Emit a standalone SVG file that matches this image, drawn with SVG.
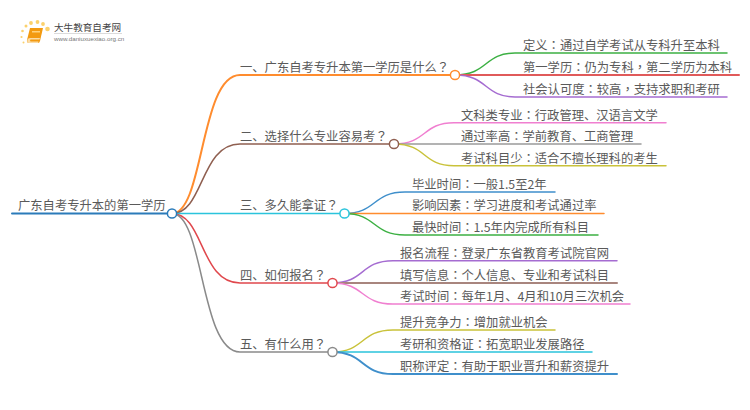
<svg xmlns="http://www.w3.org/2000/svg" width="750" height="410" viewBox="0 0 750 410">
<style>
text{font-family:"Noto Sans CJK SC","Liberation Sans",sans-serif;font-size:12.300px;fill:#5a5a5a}
.p{font-family:"Noto Sans CJK TC","Noto Sans CJK SC",sans-serif}
.c{fill:none;stroke-width:1.500;stroke-linecap:round}
.n{fill:#fff;stroke-width:1.500}
.d{fill:#fbd16c}
</style>
<rect width="750" height="410" fill="#fff"/>
<g id="logo">
<circle class="d" cx="47.500" cy="29" r="2.300"/><circle class="d" cx="43" cy="24" r="1.900"/><circle class="d" cx="37.500" cy="22" r="1.900"/><circle class="d" cx="31" cy="23" r="1.900"/><circle class="d" cx="26" cy="26" r="1.500"/><circle class="d" cx="22.500" cy="31" r="1.300"/><circle class="d" cx="21.500" cy="37" r="1.100"/><circle class="d" cx="23.500" cy="42.500" r="1"/>
<path d="M30 28H43L40 41Q39.500 43 38 43H29Q26.500 43 27 40Z" fill="#f39a10"/>
<path d="M27.500 39.500Q28 38 30 38H40L39.500 39.500H30.500Q29.500 40.500 30.500 41.500H38.500L38 43H29Q26.500 43 27.500 39.500Z" fill="#fbdca6"/>
<rect x="32" y="31" width="8" height="1.500" fill="#ffd27a"/>
<text x="54" y="31" style="font-size:9.600px;fill:#444">大牛教育自考网</text>
<rect x="54" y="33" width="68" height="0.700" fill="#ccc"/>
<text x="54" y="41.300" style="font-size:6.200px;font-family:'Liberation Sans',sans-serif;fill:#777">www.daniuxuexiao.org.cn</text>
</g>
<g id="connectors">
<path class="c" style="stroke-width:2" stroke="#2b7bb9" d="M12 213.500H172"/>
<path class="c" stroke="#ff8c2e" d="M172 213.500C204 213.500 200 75 240 75H455" style="stroke-width:2"/>
<path class="c" stroke="#8f5f50" d="M172 213.500C204 213.500 200 144 240 144H394"/>
<path class="c" stroke="#2bc4dc" d="M172 213.500H344"/>
<path class="c" stroke="#e0474c" d="M172 213.500C204 213.500 200 283 240 283H332"/>
<path class="c" stroke="#8a8a8a" d="M172 213.500C204 213.500 200 352 240 352H332"/>
<path class="c" stroke="#3cb043" d="M455 75C488 75 484 53 515 53H727"/>
<path class="c" stroke="#e05a5a" d="M455 75H739" style="stroke-width:2"/>
<path class="c" stroke="#a56cd1" d="M455 75C488 75 484 97 515 97H727"/>
<path class="c" stroke="#f07fd0" d="M394 144C427 144 422 122.700 454 122.700H666"/>
<path class="c" stroke="#9a9a9a" d="M394 144H641"/>
<path class="c" stroke="#c9c23a" d="M394 144C427 144 422 165.700 454 165.700H666"/>
<path class="c" stroke="#3f8fcb" d="M344 213.500C377 213.500 372 192 405 192H555"/>
<path class="c" stroke="#ff8c2e" d="M344 213.500H604"/>
<path class="c" stroke="#3cb043" d="M344 213.500C377 213.500 372 235 405 235H598"/>
<path class="c" stroke="#a56cd1" d="M332 283C365 283 360 260.700 393 260.700H617"/>
<path class="c" stroke="#a8857e" d="M332 283H617" style="stroke-width:2"/>
<path class="c" stroke="#f07fd0" d="M332 283C365 283 360 304 393 304H630"/>
<path class="c" stroke="#c9c23a" d="M332 352C365 352 360 330 393 330H555"/>
<path class="c" stroke="#2bc4dc" d="M332 352H592"/>
<path class="c" stroke="#3f8fcb" d="M332 352C365 352 360 374 393 374H617" style="stroke-width:2"/>
</g>
<g id="root"><text x="18" y="209.500">广东自考专升本的第一学历</text><circle class="n" stroke="#2b7bb9" cx="172" cy="213.500" r="4.600"/></g>
<g id="b1"><text x="240" y="71.500">一、广东自考专升本第一学历是什么<tspan class="p">？</tspan></text><circle class="n" stroke="#ff8c2e" cx="455" cy="75" r="4.600"/></g>
<g id="b2"><text x="240" y="140.500">二、选择什么专业容易考<tspan class="p">？</tspan></text><circle class="n" stroke="#8f5f50" cx="394" cy="144" r="4.600"/></g>
<g id="b3"><text x="240" y="210">三、多久能拿证<tspan class="p">？</tspan></text><circle class="n" stroke="#2bc4dc" cx="344.500" cy="213.500" r="4.600"/></g>
<g id="b4"><text x="240" y="279.500">四、如何报名<tspan class="p">？</tspan></text><circle class="n" stroke="#e0474c" cx="332.500" cy="283" r="4.600"/></g>
<g id="b5"><text x="240" y="348.500">五、有什么用<tspan class="p">？</tspan></text><circle class="n" stroke="#8a8a8a" cx="332.500" cy="352" r="4.600"/></g>
<g id="b1-1"><text x="523" y="50">定义<tspan class="p">：</tspan>通过自学考试从专科升至本科</text></g>
<g id="b1-2"><text x="523" y="71.500">第一学历<tspan class="p">：</tspan>仍为专科<tspan class="p">，</tspan>第二学历为本科</text></g>
<g id="b1-3"><text x="523" y="93.500">社会认可度<tspan class="p">：</tspan>较高<tspan class="p">，</tspan>支持求职和考研</text></g>
<g id="b2-1"><text x="461" y="119.500">文科类专业<tspan class="p">：</tspan>行政管理、汉语言文学</text></g>
<g id="b2-2"><text x="461" y="141">通过率高<tspan class="p">：</tspan>学前教育、工商管理</text></g>
<g id="b2-3"><text x="461" y="162.500">考试科目少<tspan class="p">：</tspan>适合不擅长理科的考生</text></g>
<g id="b3-1"><text x="412" y="188.500">毕业时间<tspan class="p">：</tspan>一般1.5至2年</text></g>
<g id="b3-2"><text x="412" y="210">影响因素<tspan class="p">：</tspan>学习进度和考试通过率</text></g>
<g id="b3-3"><text x="412" y="231.500">最快时间<tspan class="p">：</tspan>1.5年内完成所有科目</text></g>
<g id="b4-1"><text x="400" y="257.500">报名流程<tspan class="p">：</tspan>登录广东省教育考试院官网</text></g>
<g id="b4-2"><text x="400" y="279.500">填写信息<tspan class="p">：</tspan>个人信息、专业和考试科目</text></g>
<g id="b4-3"><text x="400" y="300.500">考试时间<tspan class="p">：</tspan>每年1月、4月和10月三次机会</text></g>
<g id="b5-1"><text x="400" y="326.500">提升竞争力<tspan class="p">：</tspan>增加就业机会</text></g>
<g id="b5-2"><text x="400" y="348.500">考研和资格证<tspan class="p">：</tspan>拓宽职业发展路径</text></g>
<g id="b5-3"><text x="400" y="370.500">职称评定<tspan class="p">：</tspan>有助于职业晋升和薪资提升</text></g>
</svg>
